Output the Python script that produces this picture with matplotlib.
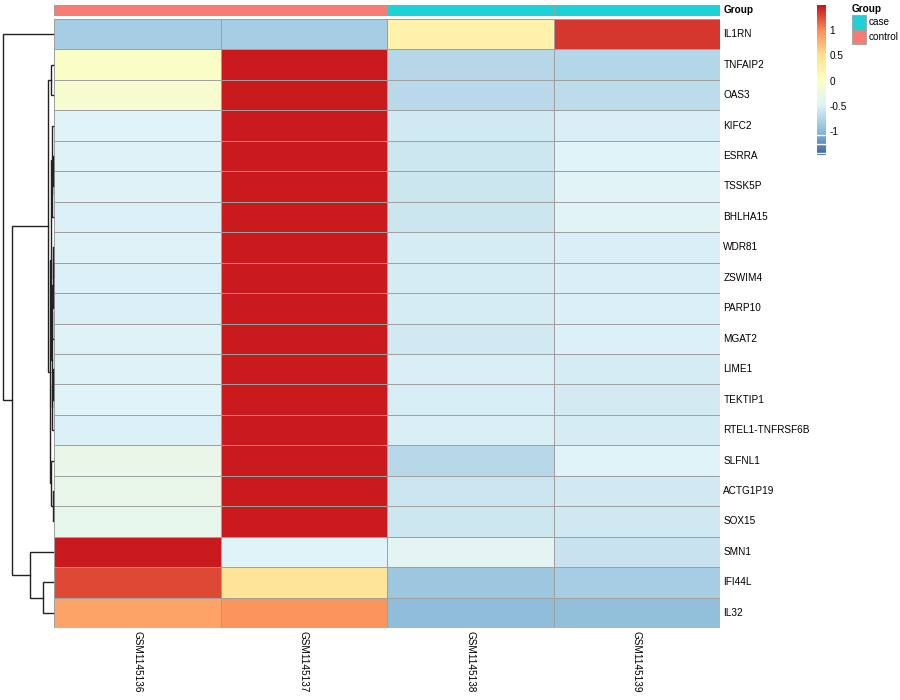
import numpy as np
import matplotlib
matplotlib.use('Agg')
import matplotlib.pyplot as plt
from matplotlib.colors import LinearSegmentedColormap, ListedColormap

plt.rcParams['font.family'] = ['Liberation Sans', 'DejaVu Sans']

# Dati (z-score per riga)
geni = ['IL1RN', 'TNFAIP2', 'OAS3', 'KIFC2', 'ESRRA', 'TSSK5P', 'BHLHA15', 'WDR81',
        'ZSWIM4', 'PARP10', 'MGAT2', 'LIME1', 'TEKTIP1', 'RTEL1-TNFRSF6B', 'SLFNL1',
        'ACTG1P19', 'SOX15', 'SMN1', 'IFI44L', 'IL32']
campioni = ['GSM1145136', 'GSM1145137', 'GSM1145138', 'GSM1145139']
gruppi = ['control', 'control', 'case', 'case']

GSM1145136 = [-0.82, -0.03, -0.10, -0.47, -0.48, -0.48, -0.49, -0.48, -0.49, -0.50,
              -0.48, -0.48, -0.47, -0.49, -0.32, -0.34, -0.35, 1.50, 1.30, 0.88]
GSM1145137 = [-0.82, 1.50, 1.50, 1.50, 1.50, 1.50, 1.50, 1.50, 1.50, 1.50,
              1.50, 1.50, 1.50, 1.50, 1.50, 1.50, 1.50, -0.46, 0.45, 0.98]
GSM1145138 = [0.25, -0.73, -0.71, -0.56, -0.58, -0.59, -0.59, -0.54, -0.53, -0.53,
              -0.56, -0.51, -0.52, -0.51, -0.72, -0.60, -0.58, -0.42, -0.88, -0.97]
GSM1145139 = [1.39, -0.74, -0.69, -0.51, -0.46, -0.45, -0.45, -0.51, -0.51, -0.50,
              -0.49, -0.54, -0.55, -0.53, -0.46, -0.56, -0.57, -0.62, -0.82, -0.95]

# Clustering righe: (figlio sinistro, figlio destro, altezza); id >= 20 = nodo precedente
fusioni = [(4, 5, 0.02), (20, 6, 0.04), (3, 21, 0.07), (7, 8, 0.02), (23, 9, 0.03),
           (24, 10, 0.05), (11, 12, 0.03), (26, 13, 0.04), (25, 27, 0.08), (22, 28, 0.12),
           (15, 16, 0.03), (14, 30, 0.15), (29, 31, 0.25), (1, 2, 0.12), (33, 32, 0.39),
           (18, 19, 0.78), (17, 35, 1.78), (34, 36, 3.2), (0, 37, 3.9)]

colori_gruppo = {'case': '#1CD2D7', 'control': '#F97C74'}
vmin, vmax = -1.46, 1.52
cmap = LinearSegmentedColormap.from_list(
    'rdylbu', ['#3E66A9', '#91BFDB', '#E0F3F8', '#FFFFBF', '#FEE090', '#FC8D59', '#C8171D'])

W, H = 900, 700
bordo = '#a0a0a0'


def box(x0, y0, x1, y1):
    return [x0 / W, 1 - y1 / H, (x1 - x0) / W, (y1 - y0) / H]


fig = plt.figure(figsize=(9, 7), dpi=100)

# Heatmap
mat = np.array([GSM1145136, GSM1145137, GSM1145138, GSM1145139]).T
ax = fig.add_axes(box(54, 19, 720, 628))
ax.pcolormesh(mat, cmap=cmap, vmin=vmin, vmax=vmax, edgecolors=bordo, linewidth=0.5)
ax.set_xlim(0, len(campioni))
ax.set_ylim(len(geni), 0)
ax.axis('off')
for i, g in enumerate(geni):
    ax.text(len(campioni) + 0.02, i + 0.5, g, va='center', ha='left', fontsize=7.2)
for j, c in enumerate(campioni):
    ax.text(j + 0.5, len(geni) + 0.1, c, rotation=270, va='top', ha='center', fontsize=7.2)

# Barra annotazione
ax_ann = fig.add_axes(box(54, 5, 720, 15.5))
gcols = list(colori_gruppo.keys())
codici = np.array([[gcols.index(g) for g in gruppi]])
ax_ann.pcolormesh(codici, cmap=ListedColormap([colori_gruppo[k] for k in gcols]),
                  vmin=-0.5, vmax=1.5, edgecolors=bordo, linewidth=0.5)
ax_ann.set_xlim(0, len(campioni))
ax_ann.set_ylim(1, 0)
ax_ann.axis('off')
ax_ann.text(len(campioni) + 0.02, 0.5, 'Group', va='center', ha='left', fontsize=7.2,
            fontweight='bold')

# Dendrogramma righe
ax_d = fig.add_axes(box(2.7, 19, 53, 628))
n = len(geni)
pos = {i: i + 0.5 for i in range(n)}
alt = {i: 0.0 for i in range(n)}
for k, (a, b, h) in enumerate(fusioni):
    ax_d.plot([alt[a], h, h, alt[b]], [pos[a], pos[a], pos[b], pos[b]],
              color='#222222', lw=1, clip_on=False, solid_joinstyle='miter')
    pos[n + k] = (pos[a] + pos[b]) / 2
    alt[n + k] = h
ax_d.set_xlim(fusioni[-1][2], 0)
ax_d.set_ylim(n, 0)
ax_d.axis('off')

# Legenda colori
ax_cb = fig.add_axes(box(817, 5, 826, 155))
grad = np.linspace(vmin, vmax, 200).reshape(-1, 1)
ax_cb.imshow(grad, cmap=cmap, vmin=vmin, vmax=vmax, aspect='auto', origin='lower',
             extent=[0, 1, vmin, vmax])
for yv in [-1.06, -1.25, -1.43]:
    ax_cb.axhline(yv, color='white', lw=1)
ax_cb.set_xlim(0, 1)
ax_cb.set_ylim(vmin, vmax)
ax_cb.axis('off')
for t in [1, 0.5, 0, -0.5, -1]:
    ax_cb.text(1.35, t, f'{t:g}', va='center', ha='left', fontsize=7.2)

# Legenda gruppi
ax_leg = fig.add_axes(box(852, 0, 900, 50))
ax_leg.set_xlim(852, 900)
ax_leg.set_ylim(50, 0)
ax_leg.axis('off')
ax_leg.text(852, 9, 'Group', va='center', ha='left', fontsize=7.2, fontweight='bold')
for i, g in enumerate(['case', 'control']):
    ax_leg.add_patch(plt.Rectangle((852, 15 + i * 14.5), 14, 14.5, facecolor=colori_gruppo[g],
                                   edgecolor=bordo, lw=0.6))
    ax_leg.text(869, 22 + i * 14.5, g, va='center', ha='left', fontsize=7.2)

fig.savefig('out.png', dpi=100)
